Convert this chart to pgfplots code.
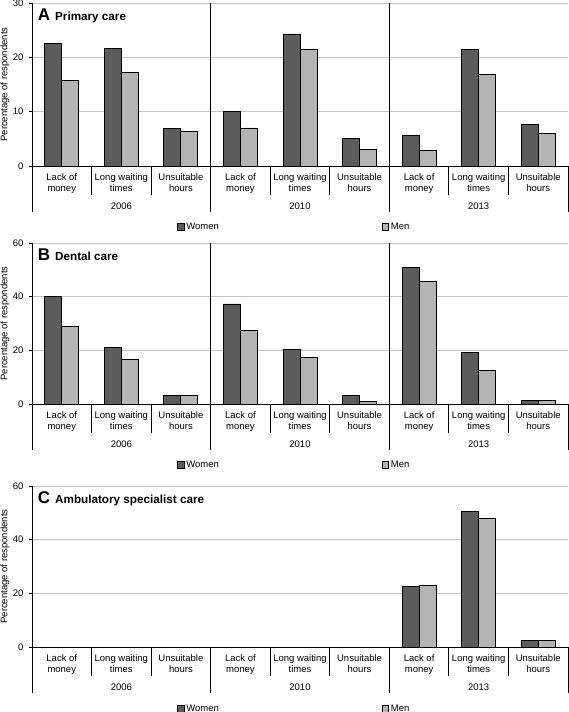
\documentclass[border=0pt]{standalone}
\usepackage{fontspec}
\setmainfont{Liberation Sans}
\usepackage{pgfplots}
\pgfplotsset{compat=1.18}
\definecolor{wcol}{RGB}{92,92,92}
\definecolor{mcol}{RGB}{180,180,180}
\definecolor{gcol}{RGB}{195,195,195}
\newcommand{\sm}{\fontsize{9.5}{11}\selectfont}
\pgfplotsset{
 panel/.style={
  scale only axis, width=536pt,
  xmin=-0.5, xmax=8.5, ymin=0,
  axis x line*=bottom, axis y line*=left,
  axis line style={black, line width=0.8pt},
  ybar=0pt, bar width=17pt,
  xtick={0,...,8},
  xticklabels={{Lack of\\money},{Long waiting\\times},{Unsuitable\\hours},{Lack of\\money},{Long waiting\\times},{Unsuitable\\hours},{Lack of\\money},{Long waiting\\times},{Unsuitable\\hours}},
  xticklabel style={align=center, font=\sm, yshift=-1pt},
  x tick style={draw=none},
  ymajorgrids, grid style={gcol, line width=0.8pt},
  y tick style={black, line width=0.8pt},
  tick align=outside, major tick length=3pt,
  yticklabel style={font=\sm, xshift=-2pt},
  /pgf/number format/assume math mode=true,
  ylabel={Percentage of respondents},
  every axis y label/.style={at={(axis description cs:-0.0504,0.5)}, rotate=90, anchor=center, font=\sm},
  clip=false,
  legend columns=2,
  legend style={draw=none, fill=none, font=\sm, anchor=west, inner sep=0pt,
    /tikz/every even column/.append style={column sep=161pt}},
  legend image code/.code={\draw[#1, line width=0.6pt] (0pt,-3pt) rectangle (6.5pt,3.5pt);},
  every axis plot/.append style={draw=black, line width=0.8pt},
 },
}
\newcommand{\seps}{%
  \pgfplotsinvokeforeach{0.5,1.5,3.5,4.5,6.5,7.5}{\draw[black, line width=0.8pt] (axis cs:##1,0) -- ++(0pt,-29pt);}
  \pgfplotsinvokeforeach{-0.5,2.5,5.5,8.5}{\draw[black, line width=0.8pt] (axis cs:##1,0) -- ++(0pt,-46pt);}
  \node[font=\sm] at ([yshift=-40pt]axis cs:1,0) {2006};
  \node[font=\sm] at ([yshift=-40pt]axis cs:4,0) {2010};
  \node[font=\sm] at ([yshift=-40pt]axis cs:7,0) {2013};
}
\newcommand{\ptitle}[2]{%
  \node[anchor=base west, inner sep=0pt] at ([xshift=5.7pt,yshift=-17.7pt]rel axis cs:0,1)
   {\bfseries{\fontsize{17}{17}\selectfont #1}\hspace{5pt}{\fontsize{11.7}{12}\selectfont #2}};
}
\begin{document}
\begin{tikzpicture}
\useasboundingbox (0pt,0pt) rectangle (568pt,-712pt);
% Panel A
\begin{axis}[panel, at={(32pt,-166pt)}, anchor=south west, height=163pt,
  ymax=30, ytick={0,10,20,30},
  legend style={at={(axis description cs:0.2705,-0.374)}}]
\addplot[fill=wcol] coordinates {(0,22.6) (1,21.7) (2,6.9) (3,10.1) (4,24.3) (5,5.1) (6,5.7) (7,21.5) (8,7.7)};
\addplot[fill=mcol] coordinates {(0,15.8) (1,17.3) (2,6.3) (3,7.0) (4,21.5) (5,3.1) (6,2.8) (7,16.9) (8,6.0)};
\legend{Women, Men}
\draw[black, line width=0.8pt] (axis cs:2.5,0) -- (axis cs:2.5,30);
\draw[black, line width=0.8pt] (axis cs:5.5,0) -- (axis cs:5.5,30);
\seps
\ptitle{A}{Primary care}
\end{axis}
% Panel B
\begin{axis}[panel, at={(32pt,-404pt)}, anchor=south west, height=161pt,
  ymax=60, ytick={0,20,40,60},
  legend style={at={(axis description cs:0.2705,-0.379)}}]
\addplot[fill=wcol] coordinates {(0,40.0) (1,21.1) (2,3.2) (3,37.3) (4,20.4) (5,3.3) (6,51.0) (7,19.2) (8,1.2)};
\addplot[fill=mcol] coordinates {(0,28.9) (1,16.5) (2,3.2) (3,27.3) (4,17.2) (5,0.9) (6,45.6) (7,12.4) (8,1.2)};
\legend{Women, Men}
\draw[black, line width=0.8pt] (axis cs:2.5,0) -- (axis cs:2.5,60);
\draw[black, line width=0.8pt] (axis cs:5.5,0) -- (axis cs:5.5,60);
\seps
\ptitle{B}{Dental care}
\end{axis}
% Panel C
\begin{axis}[panel, at={(32pt,-647pt)}, anchor=south west, height=161pt,
  ymax=60, ytick={0,20,40,60},
  legend style={at={(axis description cs:0.2705,-0.385)}}]
\addplot[fill=wcol] coordinates {(6,22.6) (7,50.5) (8,2.3)};
\addplot[fill=mcol] coordinates {(6,22.8) (7,48.0) (8,2.6)};
\legend{Women, Men}
\seps
\ptitle{C}{Ambulatory specialist care}
\end{axis}
\end{tikzpicture}
\end{document}
